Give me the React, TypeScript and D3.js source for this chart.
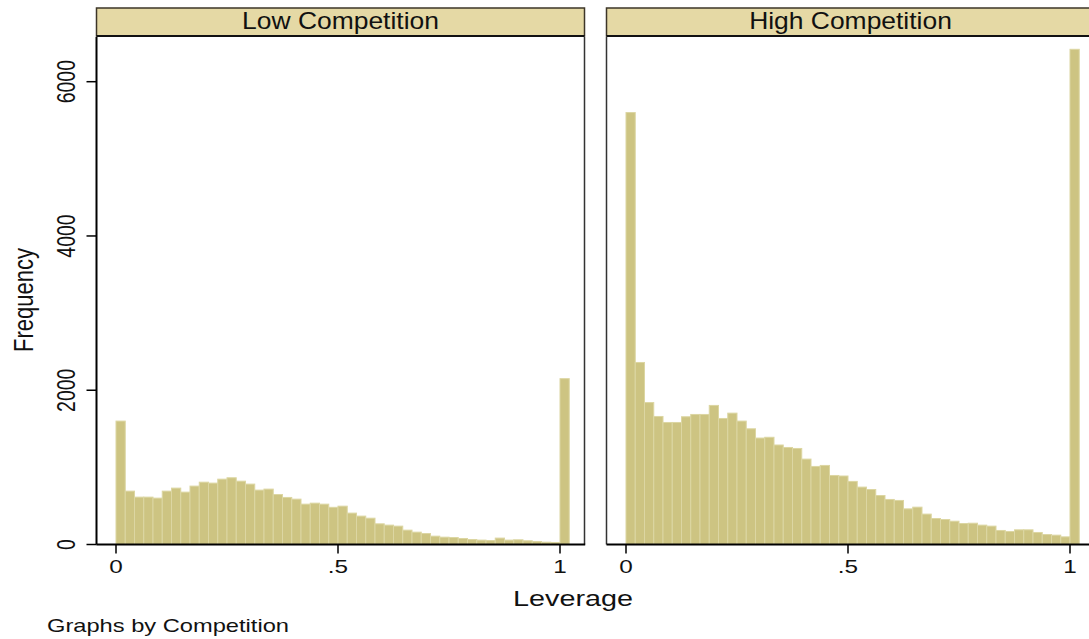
import React, { useEffect, useRef } from "react";
import * as d3 from "d3";

// histogram counts, 49 bins of width 1/48 starting at 0
const lowCounts = [1600, 692, 614, 614, 601, 692, 731, 679, 757, 808, 796, 847, 865, 821, 783, 705, 718, 648, 610, 588, 523, 536, 523, 482, 497, 407, 368, 341, 268, 251, 238, 186, 160, 142, 108, 95, 90, 78, 65, 57, 52, 83, 57, 61, 48, 39, 30, 26, 2150];
const highCounts = [5600, 2360, 1840, 1660, 1582, 1582, 1656, 1686, 1686, 1803, 1634, 1703, 1600, 1500, 1380, 1390, 1290, 1258, 1245, 1107, 1012, 1025, 895, 888, 818, 744, 713, 635, 584, 571, 462, 484, 394, 337, 324, 302, 272, 276, 251, 238, 182, 169, 190, 190, 156, 129, 121, 99, 6420];
const panelTitles = ["Low Competition", "High Competition"];
const xTicks = [0, 0.5, 1];
const xTickLabels = ["0", ".5", "1"];
const yTicks = [0, 2000, 4000, 6000];
const binWidth = 1 / 48;

const FONT = "'Liberation Sans', Arial, Helvetica, sans-serif";
const SX = 1.28; // the original is stretched horizontally

export default function App() {
  const ref = useRef<SVGSVGElement>(null);

  useEffect(() => {
    const svg = d3.select(ref.current);
    svg.selectAll("*").remove();

    const top = 37, base = 544.5, headTop = 8, headBot = 36;
    const y = d3.scaleLinear().domain([0, 6000]).range([base, 81.7]);

    const panels = [
      { title: panelTitles[0], x0: 96.5, x1: 584.5, data: lowCounts },
      { title: panelTitles[1], x0: 606.5, x1: 1094.5, data: highCounts },
    ];

    panels.forEach((p, pi) => {
      const g = svg.append("g");
      const x = d3.scaleLinear().domain([0, 1]).range([p.x0 + 19.5, p.x0 + 19.5 + 444]);

      // bars
      g.selectAll("rect.bar")
        .data(p.data)
        .join("rect")
        .attr("class", "bar")
        .attr("x", (d, i) => x(i * binWidth))
        .attr("width", (d, i) => x((i + 1) * binWidth) - x(i * binWidth))
        .attr("y", (d) => y(d))
        .attr("height", (d) => base - y(d))
        .attr("fill", "#cdc482")
        .attr("stroke", "#dcd6a2")
        .attr("stroke-width", 1);

      // header box
      g.append("rect")
        .attr("x", p.x0).attr("y", headTop)
        .attr("width", p.x1 - p.x0).attr("height", headBot - headTop)
        .attr("fill", "#e5d9a5")
        .attr("stroke", "#3d3628").attr("stroke-width", 1.5);
      g.append("line")
        .attr("x1", p.x0).attr("x2", p.x1).attr("y1", headBot).attr("y2", headBot)
        .attr("stroke", "#111").attr("stroke-width", 2);
      g.append("text")
        .attr("transform", `translate(${(p.x0 + p.x1) / 2},${29}) scale(1.15,1)`)
        .attr("text-anchor", "middle")
        .attr("font-family", FONT).attr("font-size", 23)
        .attr("fill", "#111")
        .text(p.title);

      // frame
      g.append("line")
        .attr("x1", p.x1).attr("x2", p.x1).attr("y1", top).attr("y2", base)
        .attr("stroke", "#333").attr("stroke-width", 1.5);
      g.append("line")
        .attr("x1", p.x0).attr("x2", p.x0).attr("y1", top).attr("y2", base)
        .attr("stroke", pi === 0 ? "#000" : "#333").attr("stroke-width", pi === 0 ? 2 : 1.5);
      g.append("line")
        .attr("x1", p.x0).attr("x2", p.x1 + 0.7).attr("y1", base).attr("y2", base)
        .attr("stroke", "#000").attr("stroke-width", 2);

      // x ticks
      g.selectAll("line.xt").data(xTicks).join("line").attr("class", "xt")
        .attr("x1", (d) => x(d)).attr("x2", (d) => x(d))
        .attr("y1", base).attr("y2", base + 9)
        .attr("stroke", "#000").attr("stroke-width", 1.5);
      g.selectAll("text.xl").data(xTicks).join("text").attr("class", "xl")
        .attr("transform", (d) => `translate(${x(d)},${573}) scale(${SX},1)`)
        .attr("text-anchor", "middle")
        .attr("font-family", FONT).attr("font-size", 19)
        .attr("fill", "#111")
        .text((d, i) => xTickLabels[i]);

      // y axis only on first column
      if (pi === 0) {
        g.selectAll("line.yt").data(yTicks).join("line").attr("class", "yt")
          .attr("x1", p.x0 - 10).attr("x2", p.x0)
          .attr("y1", (d) => y(d)).attr("y2", (d) => y(d))
          .attr("stroke", "#000").attr("stroke-width", 1.5);
        g.selectAll("text.yl").data(yTicks).join("text").attr("class", "yl")
          .attr("transform", (d) => `translate(${75},${y(d)}) scale(${SX},1) rotate(-90)`)
          .attr("text-anchor", "middle")
          .attr("font-family", FONT).attr("font-size", 19.5)
          .attr("fill", "#111")
          .text((d) => String(d));
      }
    });

    // axis titles
    svg.append("text")
      .attr("transform", `translate(${573},${606}) scale(${SX},1)`)
      .attr("text-anchor", "middle")
      .attr("font-family", FONT).attr("font-size", 22.5)
      .attr("fill", "#111")
      .text("Leverage");
    svg.append("text")
      .attr("transform", `translate(${33},${300}) scale(${SX},1) rotate(-90)`)
      .attr("text-anchor", "middle")
      .attr("font-family", FONT).attr("font-size", 22)
      .attr("fill", "#111")
      .text("Frequency");
    svg.append("text")
      .attr("transform", `translate(${47},${632}) scale(${SX},1)`)
      .attr("font-family", FONT).attr("font-size", 18.5)
      .attr("fill", "#111")
      .text("Graphs by Competition");
  }, []);

  return (
    <svg
      ref={ref}
      width={1089}
      height={639}
      style={{ position: "absolute", left: 0, top: 0, background: "#fff" }}
    />
  );
}
